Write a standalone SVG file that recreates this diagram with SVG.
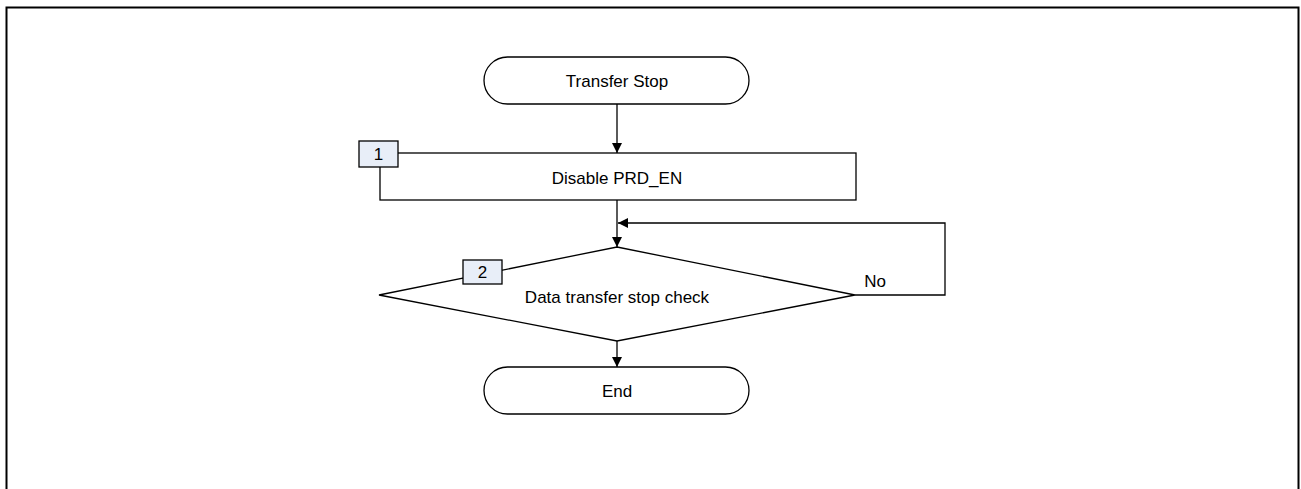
<svg xmlns="http://www.w3.org/2000/svg" width="1301" height="489" viewBox="0 0 1301 489">
<style>
.s{fill:#fff;stroke:#000;stroke-width:1.3}
.t{font-family:"Liberation Sans",Arial,sans-serif;font-size:17px;fill:#000;text-anchor:middle}
.n{fill:#e8eef8;stroke:#000;stroke-width:1.3}
.c{fill:none;stroke:#000;stroke-width:1.3}
</style>
<defs>
<marker id="a" markerWidth="10" markerHeight="10" refX="10" refY="5" orient="auto" markerUnits="userSpaceOnUse" viewBox="0 0 10 10">
<path d="M0,0 L10,5 L0,10 z" fill="#000"/>
</marker>
</defs>
<rect x="6.5" y="7.5" width="1292" height="490" fill="none" stroke="#000" stroke-width="2"/>
<g id="connectors">
<line class="c" x1="617" y1="104" x2="617" y2="153" marker-end="url(#a)"/>
<line class="c" x1="617" y1="200" x2="617" y2="247" marker-end="url(#a)"/>
<line class="c" x1="617" y1="341" x2="617" y2="367" marker-end="url(#a)"/>
<polyline class="c" points="855,295 945,295 945,223 618,223" marker-end="url(#a)"/>
<text class="t" x="875" y="287">No</text>
</g>
<g id="start">
<rect class="s" x="484" y="57" width="265" height="47" rx="23.5"/>
<text class="t" x="617" y="87">Transfer Stop</text>
</g>
<g id="step1">
<rect class="s" x="380" y="153" width="476" height="47"/>
<text class="t" x="617" y="184">Disable PRD_EN</text>
<rect class="n" x="359" y="141" width="39" height="26"/>
<text class="t" x="378.5" y="160">1</text>
</g>
<g id="step2">
<polygon class="s" points="617,247 855,295 617,341 379,295"/>
<text class="t" x="617" y="303">Data transfer stop check</text>
<rect class="n" x="463" y="260" width="39" height="24"/>
<text class="t" x="482.5" y="278">2</text>
</g>
<g id="end">
<rect class="s" x="484" y="367" width="265" height="47" rx="23.5"/>
<text class="t" x="617" y="397">End</text>
</g>
</svg>
